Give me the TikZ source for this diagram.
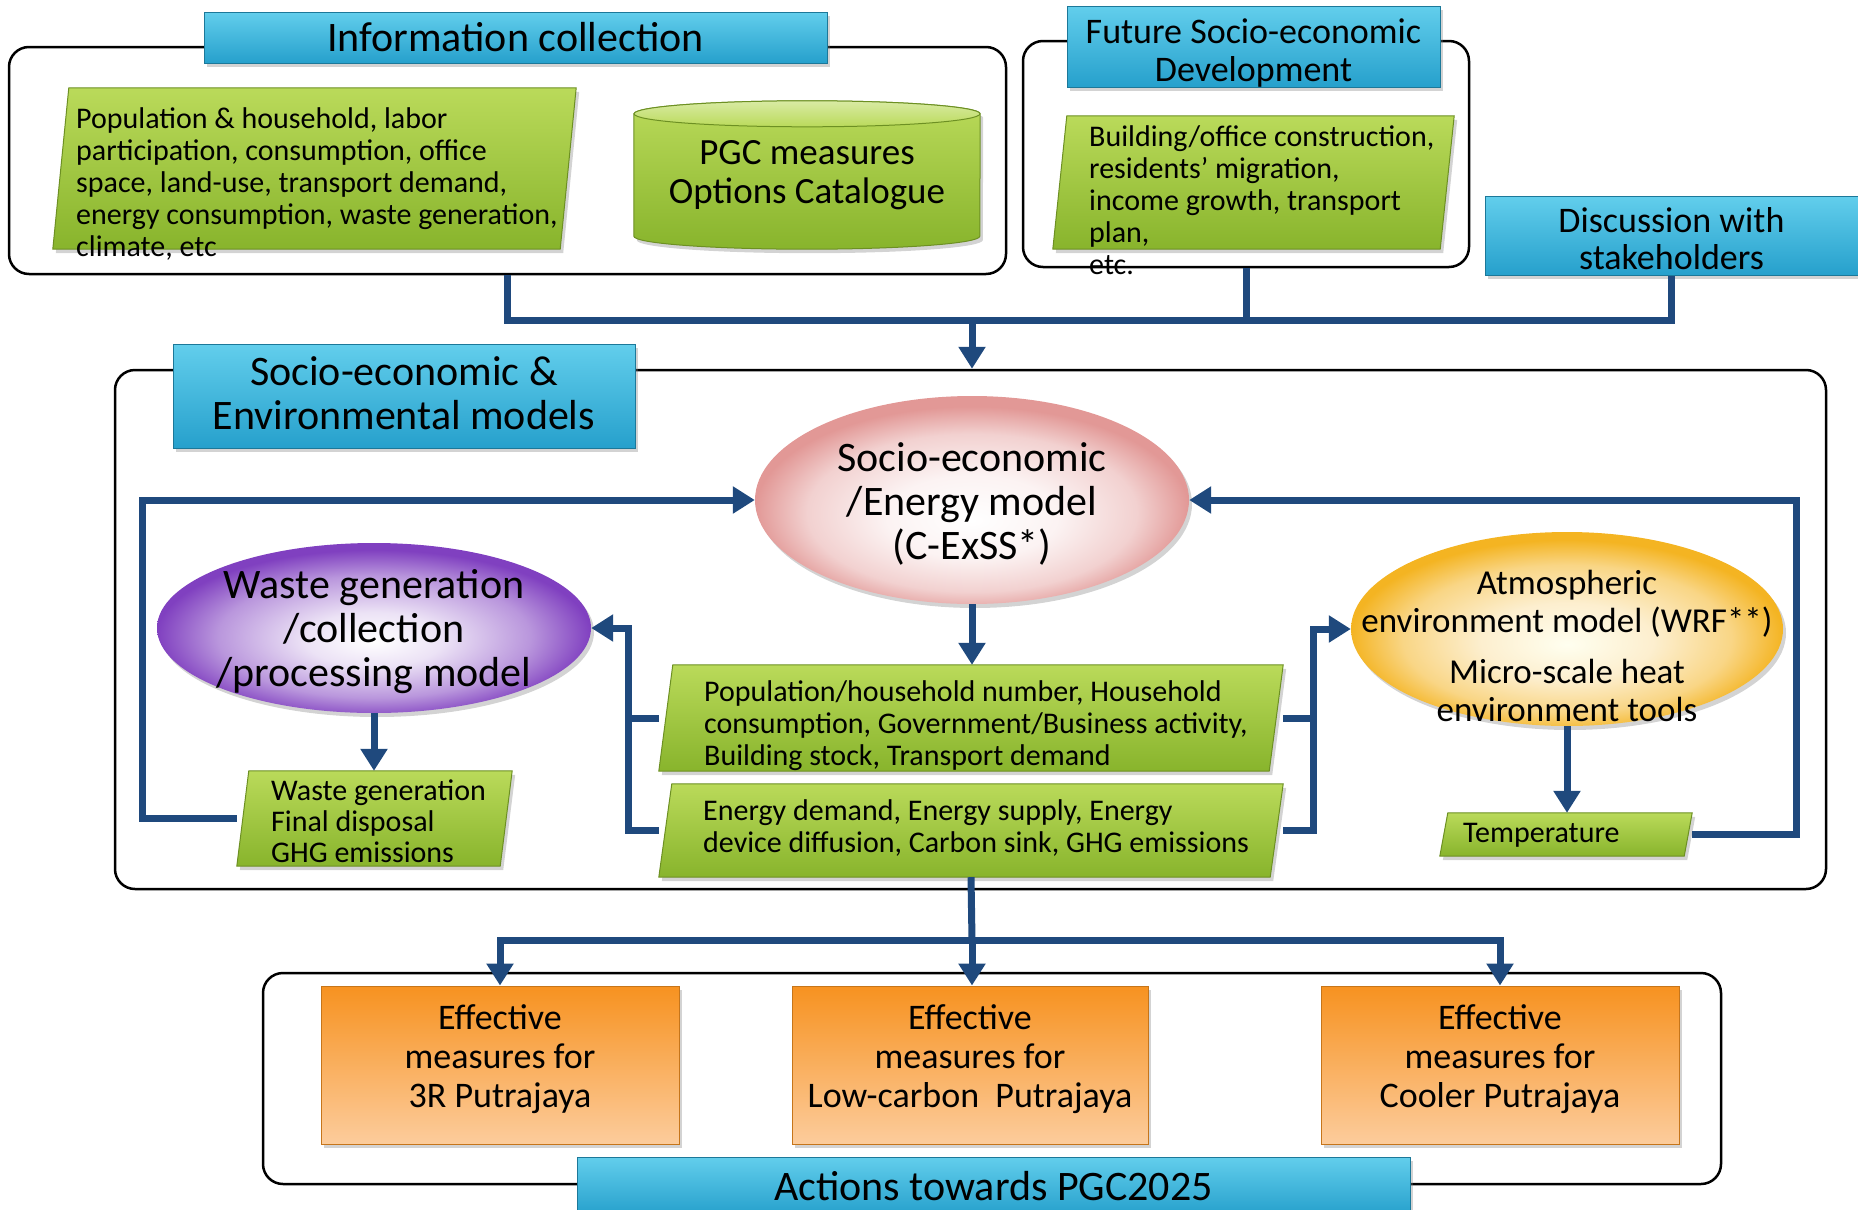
\documentclass[tikz,border=0pt]{standalone}
\usepackage{fontspec}
\setmainfont{Carlito}
\usetikzlibrary{arrows.meta,shapes.geometric,shadows,positioning}
\definecolor{flowblue}{RGB}{31,73,125}
\definecolor{cyanhi}{RGB}{98,206,236}
\definecolor{cyanlo}{RGB}{38,160,204}
\definecolor{greenhi}{RGB}{186,218,90}
\definecolor{greenlo}{RGB}{136,180,44}
\definecolor{orangehi}{RGB}{247,146,32}
\definecolor{orangelo}{RGB}{252,204,156}
\definecolor{pinkedge}{RGB}{226,152,150}
\definecolor{purpleedge}{RGB}{128,64,192}
\definecolor{yellowedge}{RGB}{244,180,34}
\pgfdeclareradialshading{pinkglow}{\pgfpoint{0bp}{-5bp}}{color(0bp)=(white);
  color(10bp)=(pinkedge!12); color(19bp)=(pinkedge!45); color(25bp)=(pinkedge); color(50bp)=(pinkedge)}
\pgfdeclareradialshading{purpleglow}{\pgfpoint{0bp}{-4bp}}{color(0bp)=(white);
  color(8bp)=(purpleedge!15); color(18bp)=(purpleedge!55); color(25bp)=(purpleedge); color(50bp)=(purpleedge)}
\pgfdeclareradialshading{yellowglow}{\pgfpoint{0bp}{-4bp}}{color(0bp)=(yellow!6);
  color(10bp)=(yellowedge!22); color(19bp)=(yellowedge!55); color(25bp)=(yellowedge); color(50bp)=(yellowedge)}
\tikzset{%
  frame/.style     = {rectangle, draw, line width=2.5pt, rounded corners=20pt},%
  shade/.style     = {drop shadow={shadow xshift=3pt, shadow yshift=-4pt, opacity=.35}},%
  titlebar/.style  = {rectangle, shade, draw=cyanlo!75!black, line width=1pt,%
                      top color=cyanhi, bottom color=cyanlo, align=center},%
  bartext/.style   = {align=center, inner sep=0pt},%
  greenbox/.style  = {rectangle, inner sep=0pt},%
  greenfill/.style = {shade, draw=greenlo!80!black, line width=1pt,%
                      top color=greenhi, bottom color=greenlo},%
  greentext/.style = {anchor=north west, align=left, inner sep=0pt,%
                      font=\fontsize{30}{32}\selectfont},%
  model/.style     = {ellipse, shade, inner sep=0pt},%
  modeltext/.style = {align=center, inner sep=0pt, font=\fontsize{42}{44}\selectfont},%
  measure/.style   = {rectangle, shade, draw=orangehi!80!black, line width=1pt,%
                      top color=orangehi, bottom color=orangelo,%
                      minimum width=358pt, minimum height=158pt},%
  measuretext/.style = {align=center, inner sep=0pt, font=\fontsize{36}{39}\selectfont},%
  link/.style      = {draw=flowblue, line width=7pt},%
  flow/.style      = {link, -{Triangle[length=22pt,width=26pt]}}%
}
% slanted green panel on the corners of a named box
\newcommand{\slantbox}[2]{%
  \path[greenfill] ([xshift=#2]#1.north west) -- (#1.north east)
    -- ([xshift=-#2]#1.south east) -- (#1.south west) -- cycle;}
\begin{document}
\begin{tikzpicture}[x=1pt,y=-1pt]
	\useasboundingbox (0,0) rectangle (1858,1210);
	% frames
	\node[frame, minimum width=997pt, minimum height=227pt] (infoframe) at (507.5,160.5) {};
	\node[frame, minimum width=446pt, minimum height=226pt] (futframe) at (1246,154) {};
	\node[frame, minimum width=1711pt, minimum height=519pt] (modelframe) at (970.5,629.5) {};
	\node[frame, minimum width=1458pt, minimum height=211pt] (actframe) at (992,1078.5) {};
	% information collection
	\node[titlebar, minimum width=623pt, minimum height=51pt, font=\fontsize{42}{44}\selectfont]
		(infobar) at (515.5,37.5) {Information collection};
	\node[greenbox, minimum width=523pt, minimum height=161pt] (infobox) at (314.5,168.5) {};
	\slantbox{infobox}{16pt}
	\node[greentext] (infotext) at (76,107) {Population \& household, labor\\
		participation, consumption, office\\ space, land-use, transport demand,\\
		energy consumption, waste generation,\\ climate, etc};
	\node[greenbox, minimum width=346pt, minimum height=148pt] (pgc) at (807,175) {};
	\path[greenfill] ([yshift=-13pt]pgc.north west) -- ([yshift=13pt]pgc.south west)
		arc[start angle=180, end angle=360, x radius=173pt, y radius=13pt]
		-- ([yshift=-13pt]pgc.north east)
		arc[start angle=0, end angle=180, x radius=173pt, y radius=13pt] -- cycle;
	\path[draw=greenlo!80!black, line width=1pt, top color=greenhi!55!white, bottom color=greenhi]
		([yshift=-13pt]pgc.north) ellipse[x radius=173pt, y radius=13pt];
	\node[bartext, font=\fontsize{37}{39}\selectfont] (pgctext) at (pgc.center)
		{PGC measures\\Options Catalogue};
	% future development
	\node[titlebar, minimum width=373pt, minimum height=81pt] (futbar) at (1253.5,46.5) {};
	\node[bartext, font=\fontsize{36}{38}\selectfont] (futbartext) at (1253.5,53.5)
		{Future Socio-economic\\Development};
	\node[greenbox, minimum width=401pt, minimum height=133pt] (futbox) at (1253.5,182.5) {};
	\slantbox{futbox}{14pt}
	\node[greentext] (futtext) at (1089,125) {Building/office construction,\\
		residents’ migration,\\ income growth, transport\\ plan,\\ etc.};
	\node[titlebar, minimum width=373pt, minimum height=79pt] (discuss) at (1671.5,235.5) {};
	\node[bartext, font=\fontsize{36}{37}\selectfont] (discusstext) at (1671.5,239)
		{Discussion with\\stakeholders};
	\coordinate (hub) at (972,320);
	\draw[link] (infoframe.south) |- (discuss.south |- hub) -- (discuss.south);
	\draw[link] (futframe.south) -- (futframe.south |- hub);
	\draw[flow] (hub) -- (hub |- modelframe.north);
	% models
	\node[titlebar, minimum width=462pt, minimum height=104pt] (modelbar) at (404,396) {};
	\node[bartext, font=\fontsize{42}{44}\selectfont] (modelbartext) at (404,393.5)
		{Socio-economic \&\\Environmental models};
	\node[model, minimum width=434pt, minimum height=208pt, shading=pinkglow] (socio) at (972,500) {};
	\node[modeltext] (sociotext) at (972,503.5) {Socio-economic\\/Energy model\\(C-ExSS*)};
	\node[model, minimum width=434pt, minimum height=170pt, shading=purpleglow] (waste) at (374,628) {};
	\node[modeltext] (wastetext) at (374,631.5) {Waste generation\\/collection\\/processing model};
	\node[model, minimum width=432pt, minimum height=194pt, shading=yellowglow] (atm) at (1567,629) {};
	\node[bartext, font=\fontsize{35}{38}\selectfont] (atmtext) at (1567,646)
		{Atmospheric\\environment model (WRF**)\\[13pt]Micro-scale heat\\environment tools};
	\node[greenbox, minimum width=624pt, minimum height=106pt] (popbox) at (971,718) {};
	\slantbox{popbox}{14pt}
	\node[greentext] (poptext) at (704,680.5) {Population/household number, Household\\
		consumption, Government/Business activity,\\ Building stock, Transport demand};
	\node[greenbox, minimum width=624pt, minimum height=93pt] (ebox) at (971,830.5) {};
	\slantbox{ebox}{13pt}
	\node[greentext] (etext) at (703,799) {Energy demand, Energy supply, Energy\\
		device diffusion, Carbon sink, GHG emissions};
	\node[greenbox, minimum width=275pt, minimum height=95pt] (wbox) at (374.5,818.5) {};
	\slantbox{wbox}{12pt}
	\node[greentext, font=\fontsize{30}{31}\selectfont] (wtext) at (271,780)
		{Waste generation\\Final disposal\\GHG emissions};
	\node[greenbox, minimum width=252pt, minimum height=43pt] (temp) at (1566,834.5) {};
	\slantbox{temp}{8pt}
	\node[anchor=west, inner sep=0pt, font=\fontsize{30}{32}\selectfont]
		(temptext) at (1463,835.5) {Temperature};
	\draw[flow] (socio.south) -- (socio.south |- popbox.north);
	\draw[flow] (waste.south) -- (waste.south |- wbox.north);
	\draw[flow] (atm.south) -- (atm.south |- temp.north);
	\draw[flow] (wbox.west) -- ++(-94,0) |- (socio.west);
	\draw[flow] (temp.east) -- ++(104,0) |- (socio.east);
	\draw[flow] (ebox.west) -- ++(-30,0) coordinate (lfeed) |- (waste.east);
	\draw[link] (popbox.west) -- (popbox.west -| lfeed);
	\draw[flow] (ebox.east) -- ++(30,0) coordinate (rfeed) |- (atm.west);
	\draw[link] (popbox.east) -- (popbox.east -| rfeed);
	% actions
	\coordinate (bhub) at (972,940);
	\node[measure] (m3r) at (500,1065) {};
	\node[measuretext] (m3rtext) at ([yshift=5.5pt]m3r.center) {Effective\\measures for\\3R Putrajaya};
	\node[measure, minimum width=356pt] (mlow) at (970,1065) {};
	\node[measuretext] (mlowtext) at ([yshift=5.5pt]mlow.center) {Effective\\measures for\\Low-carbon~ Putrajaya};
	\node[measure] (mcool) at (1500,1065) {};
	\node[measuretext] (mcooltext) at ([yshift=5.5pt]mcool.center) {Effective\\measures for\\Cooler Putrajaya};
	\node[titlebar, minimum width=833pt, minimum height=58pt, font=\fontsize{42}{44}\selectfont]
		(actbar) at (993.5,1186) {Actions towards PGC2025};
	\draw[link] (ebox.south) -- (bhub);
	\draw[flow] (bhub) -| (m3r.north);
	\draw[flow] (bhub) -| (mcool.north);
	\draw[flow] (bhub) -- (bhub |- mlow.north);
\end{tikzpicture}
\end{document}
